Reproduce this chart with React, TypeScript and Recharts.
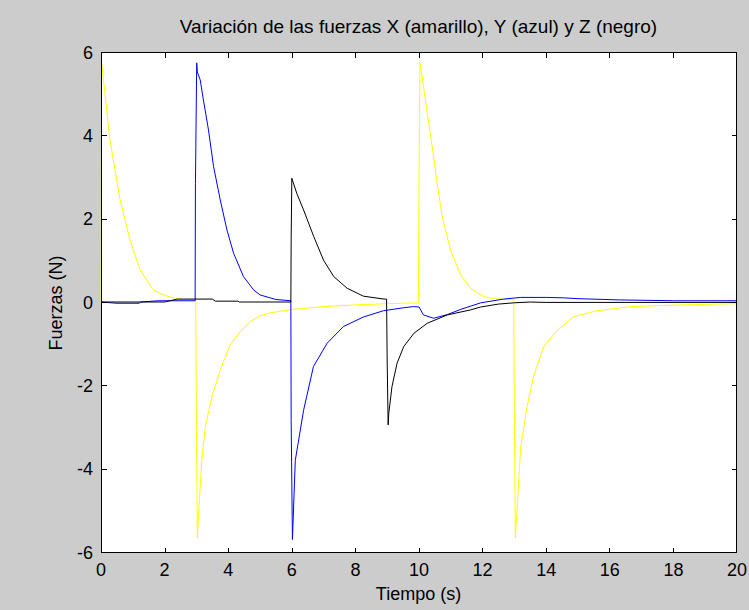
import React from 'react';
import { LineChart, Line, XAxis, YAxis } from 'recharts';

// tiempos (s) y fuerzas (N)
const xTimes = [0, 0.02, 0.28, 0.6, 0.91, 1.23, 1.64, 2.0, 2.27, 2.6, 2.98, 3.0, 3.03, 3.07, 3.17, 3.28, 3.49, 3.75, 4.06, 4.38, 4.69, 5.0, 5.32, 6.0, 7.0, 8.0, 9.0, 9.98, 10.0, 10.03, 10.1, 10.26, 10.43, 10.57, 10.73, 10.99, 11.31, 11.62, 12.03, 12.35, 12.98, 13.0, 13.03, 13.2, 13.4, 13.6, 13.92, 14.36, 14.87, 15.6, 16.66, 18.2, 20];
const xForce = [0, 5.74, 3.9, 2.45, 1.49, 0.77, 0.29, 0.16, 0.1, 0.06, 0.05, -2.83, -5.66, -5.07, -3.79, -2.99, -2.27, -1.63, -1.03, -0.71, -0.47, -0.33, -0.26, -0.18, -0.11, -0.07, -0.04, -0.02, 2.85, 5.74, 5.41, 4.53, 3.65, 2.85, 2.05, 1.25, 0.65, 0.33, 0.13, 0.08, 0.05, -2.83, -5.66, -3.47, -2.51, -1.79, -1.07, -0.67, -0.35, -0.21, -0.11, -0.07, -0.04];

const yTimes = [0, 0.5, 1.2, 1.25, 1.8, 2.96, 2.97, 3.01, 3.03, 3.12, 3.22, 3.38, 3.54, 3.75, 3.96, 4.17, 4.48, 4.8, 5.0, 5.5, 5.97, 5.98, 6.02, 6.11, 6.37, 6.68, 7.11, 7.62, 8.25, 8.88, 9.5, 9.83, 10.0, 10.14, 10.46, 10.9, 11.3, 11.62, 11.94, 12.66, 13.2, 14.0, 14.55, 15.0, 16.3, 18.0, 20];
const yForce = [0, -0.03, -0.03, 0, 0.03, 0.03, 2.85, 5.74, 5.52, 5.33, 4.85, 4.13, 3.25, 2.45, 1.73, 1.17, 0.61, 0.29, 0.17, 0.06, 0.03, -2.85, -5.7, -3.8, -2.6, -1.55, -0.99, -0.59, -0.36, -0.21, -0.14, -0.11, -0.12, -0.31, -0.39, -0.3, -0.18, -0.1, -0.02, 0.07, 0.11, 0.11, 0.1, 0.08, 0.05, 0.03, 0.03];

const zTimes = [0, 2.0, 2.4, 3.5, 3.6, 4.3, 4.35, 5.97, 5.98, 6.0, 6.16, 6.37, 6.69, 7.0, 7.32, 7.74, 8.25, 8.9, 8.98, 9.0, 9.03, 9.05, 9.15, 9.31, 9.52, 9.84, 10.26, 10.89, 11.62, 11.94, 12.5, 12.98, 13.5, 14.0, 20];
const zForce = [0, 0, 0.07, 0.07, 0.02, 0.02, 0, 0, 1.49, 2.97, 2.6, 2.21, 1.57, 1.0, 0.61, 0.33, 0.14, 0.07, 0.07, -1.44, -2.95, -2.67, -2.03, -1.47, -1.07, -0.75, -0.51, -0.31, -0.19, -0.12, -0.05, -0.02, 0, -0.01, -0.01];

const xTicks = [0, 2, 4, 6, 8, 10, 12, 14, 16, 18, 20];
const yTicks = [-6, -4, -2, 0, 2, 4, 6];

const toPoints = (ts: number[], vs: number[]) => ts.map((t, i) => ({ t, v: vs[i] }));

const W = 749;
const H = 610;
const LEFT = 101;
const TOP = 52;
const RIGHT = 736;
const BOTTOM = 552;
const FONT = '"Liberation Sans", Arial, sans-serif';
const TICK = 5;

const BottomTick = ({ x, payload }: any) => (
  <text x={x} y={576} textAnchor="middle" fontSize={18} fontFamily={FONT} fill="#000">
    {payload.value}
  </text>
);

const LeftTick = ({ y, payload }: any) => (
  <text x={93} y={y + 6.5} textAnchor="end" fontSize={18} fontFamily={FONT} fill="#000">
    {payload.value}
  </text>
);

// marco tipo MATLAB con rayas hacia dentro en los cuatro lados
function Frame() {
  const px = (t: number) => Math.round(LEFT + (t / 20) * (RIGHT - LEFT)) + 0.5;
  const py = (v: number) => Math.round(TOP + ((6 - v) / 12) * (BOTTOM - TOP)) + 0.5;
  const l = LEFT + 0.5;
  const r = RIGHT + 0.5;
  const t = TOP + 0.5;
  const b = BOTTOM + 0.5;
  return (
    <svg
      width={W}
      height={H}
      style={{ position: 'absolute', left: 0, top: 0, pointerEvents: 'none' }}
      shapeRendering="crispEdges"
    >
      <rect x={l} y={t} width={r - l} height={b - t} fill="none" stroke="#000" strokeWidth={1} />
      {xTicks.map((v) => (
        <g key={`x${v}`}>
          <line x1={px(v)} x2={px(v)} y1={b} y2={b - TICK} stroke="#000" strokeWidth={1} />
          <line x1={px(v)} x2={px(v)} y1={t} y2={t + TICK} stroke="#000" strokeWidth={1} />
        </g>
      ))}
      {yTicks.map((v) => (
        <g key={`y${v}`}>
          <line x1={l} x2={l + TICK} y1={py(v)} y2={py(v)} stroke="#000" strokeWidth={1} />
          <line x1={r} x2={r - TICK} y1={py(v)} y2={py(v)} stroke="#000" strokeWidth={1} />
        </g>
      ))}
    </svg>
  );
}

export default function App() {
  const xData = toPoints(xTimes, xForce);
  const yData = toPoints(yTimes, yForce);
  const zData = toPoints(zTimes, zForce);

  return (
    <div style={{ position: 'absolute', left: 0, top: 0, width: W, height: H, background: '#cccccc' }}>
      <div
        style={{
          position: 'absolute',
          left: LEFT,
          top: TOP,
          width: RIGHT - LEFT,
          height: BOTTOM - TOP,
          background: '#ffffff',
        }}
      />
      <div style={{ position: 'absolute', left: 0, top: 0 }}>
        <LineChart
          width={W}
          height={H}
          margin={{ top: TOP - 1, right: W - RIGHT - 1, bottom: H - BOTTOM - 1, left: LEFT - 1 }}
        >
          <XAxis
            dataKey="t"
            type="number"
            domain={[0, 20]}
            ticks={xTicks}
            height={1}
            tickLine={false}
            axisLine={false}
            tick={BottomTick}
            label={{
              content: () => (
                <text x={(LEFT + RIGHT) / 2} y={600} textAnchor="middle" fontSize={18} fontFamily={FONT} fill="#000">
                  Tiempo (s)
                </text>
              ),
            }}
          />
          <XAxis
            xAxisId="top"
            orientation="top"
            dataKey="t"
            type="number"
            domain={[0, 20]}
            ticks={xTicks}
            height={1}
            tickLine={false}
            axisLine={false}
            tick={false}
            label={{
              content: () => (
                <text x={(LEFT + RIGHT) / 2} y={33} textAnchor="middle" fontSize={19} fontFamily={FONT} fill="#000">
                  Variación de las fuerzas X (amarillo), Y (azul) y Z (negro)
                </text>
              ),
            }}
          />
          <YAxis
            type="number"
            domain={[-6, 6]}
            ticks={yTicks}
            width={1}
            tickLine={false}
            axisLine={false}
            tick={LeftTick}
            label={{
              content: () => (
                <text
                  x={62}
                  y={303}
                  transform="rotate(-90, 62, 303)"
                  textAnchor="middle"
                  fontSize={18}
                  fontFamily={FONT}
                  fill="#000"
                >
                  Fuerzas (N)
                </text>
              ),
            }}
          />
          <Line data={xData} dataKey="v" type="linear" stroke="#ffff00" strokeWidth={1} dot={false} isAnimationActive={false} />
          <Line data={yData} dataKey="v" type="linear" stroke="#0000ff" strokeWidth={1} dot={false} isAnimationActive={false} />
          <Line
            data={zData}
            xAxisId="top"
            dataKey="v"
            type="linear"
            stroke="#000000"
            strokeWidth={1}
            dot={false}
            isAnimationActive={false}
          />
        </LineChart>
      </div>
      <Frame />
    </div>
  );
}
